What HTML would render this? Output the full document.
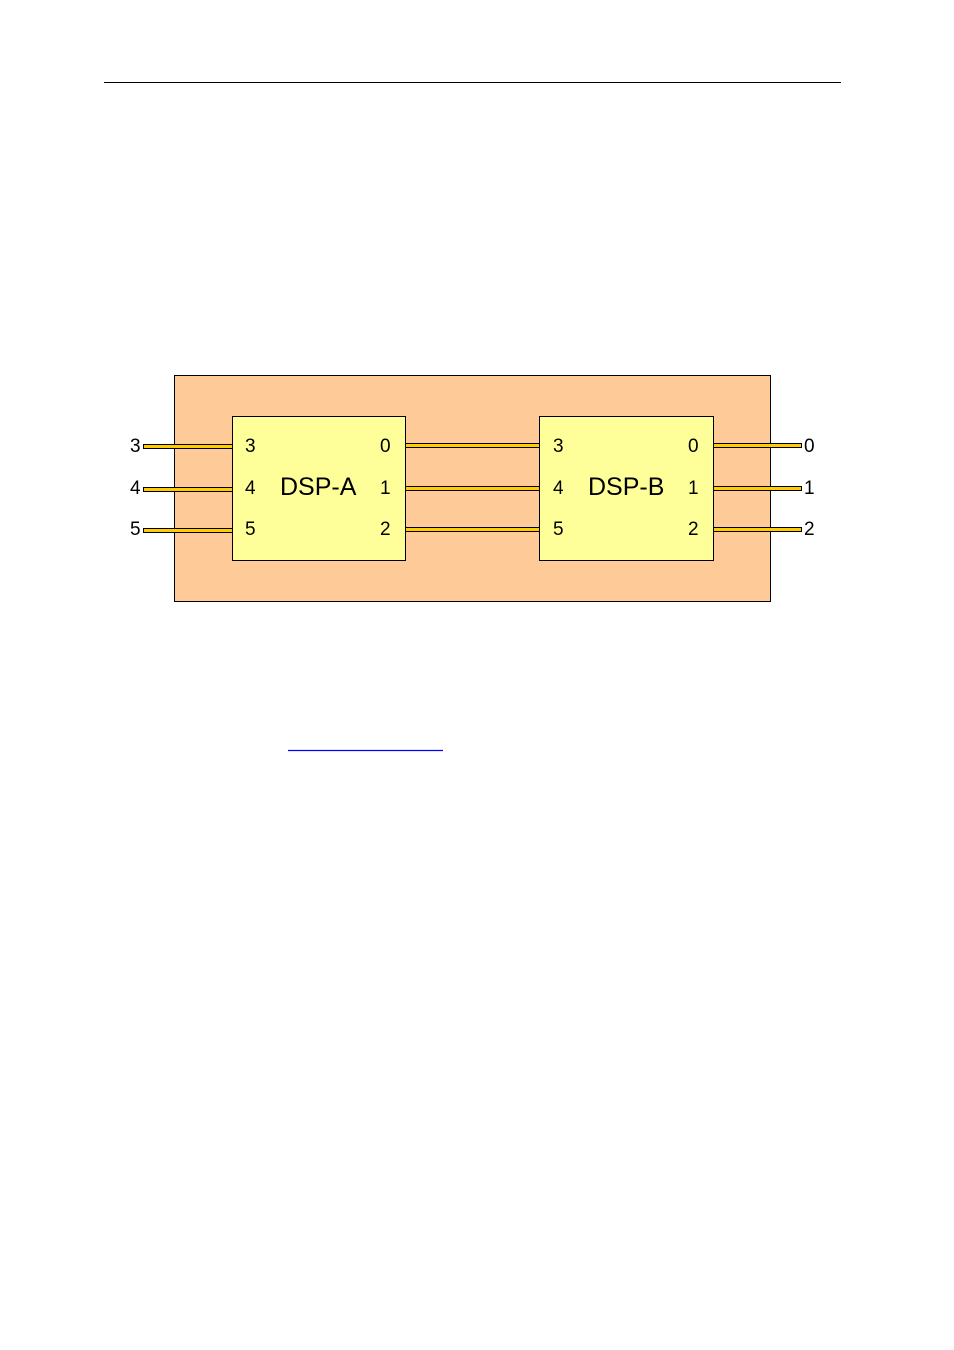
<!DOCTYPE html>
<html><head><meta charset="utf-8"><style>
html,body{margin:0;padding:0;background:#fff;}
svg{display:block;}
text{font-family:"Liberation Sans",Arial,sans-serif;fill:#000;}
</style></head><body>
<svg width="954" height="1350" viewBox="0 0 954 1350" xmlns="http://www.w3.org/2000/svg">
<rect x="0" y="0" width="954" height="1350" fill="#fff"/>
<line x1="104" y1="82.5" x2="841" y2="82.5" stroke="#000" stroke-width="1"/>
<rect x="174.5" y="375.5" width="596" height="226" fill="#fecb98" stroke="#000" stroke-width="1"/>
<g fill="#ffcc00" stroke="#000" stroke-width="1">
<rect x="143.5" y="444.5" width="89" height="4"/>
<rect x="143.5" y="487.5" width="89" height="4"/>
<rect x="143.5" y="528.5" width="89" height="4"/>
<rect x="405.5" y="443.5" width="134" height="4"/>
<rect x="405.5" y="486.5" width="134" height="4"/>
<rect x="405.5" y="527.5" width="134" height="4"/>
<rect x="713.5" y="443.5" width="88" height="4"/>
<rect x="713.5" y="486.5" width="88" height="4"/>
<rect x="713.5" y="527.5" width="88" height="4"/>
</g>
<rect x="232.5" y="416.5" width="173" height="144" fill="#ffff99" stroke="#000" stroke-width="1"/>
<rect x="539.5" y="416.5" width="174" height="144" fill="#ffff99" stroke="#000" stroke-width="1"/>
<g font-size="19">
<text x="130" y="452">3</text><text x="130" y="494">4</text><text x="130" y="535">5</text>
<text x="245" y="452">3</text><text x="245" y="494">4</text><text x="245" y="535">5</text>
<text x="380" y="452">0</text><text x="380" y="494">1</text><text x="380" y="535">2</text>
<text x="553" y="452">3</text><text x="553" y="494">4</text><text x="553" y="535">5</text>
<text x="688" y="452">0</text><text x="688" y="494">1</text><text x="688" y="535">2</text>
<text x="804" y="452">0</text><text x="804" y="494">1</text><text x="804" y="535">2</text>
</g>
<text x="280" y="495" font-size="25">DSP-A</text>
<text x="588" y="495" font-size="25">DSP-B</text>
<line x1="288" y1="750.5" x2="443" y2="750.5" stroke="#0000ff" stroke-width="1.3"/>
</svg>
</body></html>
